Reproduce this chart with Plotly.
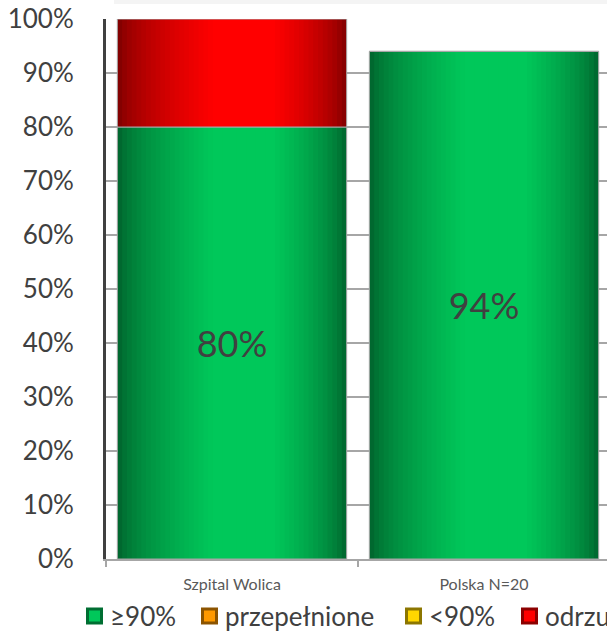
import plotly.graph_objects as go

# Categories and stacked series values (percent of cases)
categories = ["Szpital Wolica", "Polska N=20"]
series_names = ["≥90%", "przepełnione", "<90%", "odrzucone"]
val_ge90 = [80, 94]
val_overfilled = [0, 0]
val_lt90 = [0, 0]
val_rejected = [20, 0]
y_ticks = [0, 10, 20, 30, 40, 50, 60, 70, 80, 90, 100]

series_values = [val_ge90, val_overfilled, val_lt90, val_rejected]
base_colors = [(0, 200, 90), (255, 153, 0), (255, 215, 0), (255, 0, 0)]
label_series = {0}  # only the ≥90% segment carries a value label

BAR_W = 0.91
N_SLICES = 48
step = BAR_W / N_SLICES

FIG_W, FIG_H = 670, 631
M_L, M_R, M_T, M_B = 106, 60, 19, 72
PLOT_W = FIG_W - M_L - M_R
PLOT_H = FIG_H - M_T - M_B

# legend layout (pixel positions of swatches along the bottom row)
LEG_SWATCH_X = [86, 201, 405, 521]
LEG_Y = 616
LEG_SWATCH = 17
LEG_TEXT_GAP = 5


def shade(t):
    """Cylinder-like brightness across the bar width (t in 0..1)."""
    left = min(1.0, t / 0.42) ** 0.6
    right = min(1.0, (1.0 - t) / 0.32) ** 0.6
    return 0.46 + 0.54 * min(left, right)


def rgb(c, f):
    return "rgb(%d,%d,%d)" % tuple(int(round(min(255, v * f))) for v in c)


def px_x(px):
    return (px - M_L) / PLOT_W


def px_y(py):
    return (FIG_H - M_B - py) / PLOT_H


fig = go.Figure()

running = [0] * len(categories)
for si, (name, vals) in enumerate(zip(series_names, series_values)):
    bases = list(running)
    if any(v > 0 for v in vals):
        # gradient fill built from thin vertical slices of the same bar
        for k in range(N_SLICES):
            t = (k + 0.5) / N_SLICES
            w = step * 1.35 if k < N_SLICES - 1 else step
            fig.add_trace(go.Bar(
                x=categories, y=vals, base=bases,
                width=[w] * len(categories),
                offset=[-BAR_W / 2 + k * step] * len(categories),
                marker=dict(color=rgb(base_colors[si], shade(t)), line=dict(width=0)),
                showlegend=False, hoverinfo="skip",
            ))
        # outline and value label
        fig.add_trace(go.Bar(
            x=categories, y=vals, base=bases,
            width=[BAR_W] * len(categories),
            marker=dict(color="rgba(0,0,0,0)", line=dict(color="#a6a6a6", width=1)),
            text=[f"{v}%" if (si in label_series and v > 0) else "" for v in vals],
            textposition="inside", insidetextanchor="middle", textangle=0,
            constraintext="none",
            textfont=dict(family="Lato", size=36, color="#404040"),
            showlegend=False, hoverinfo="skip",
        ))
    running = [r + v for r, v in zip(running, vals)]

# faint shadow of the chart frame along the top edge
shapes = [dict(
    type="rect", xref="paper", yref="paper",
    x0=px_x(114), x1=px_x(FIG_W), y0=px_y(4), y1=px_y(0),
    fillcolor="#f4f4f4", line=dict(width=0), layer="below",
)]
annotations = []

# legend row: bevelled swatch + label for each series
for si, name in enumerate(series_names):
    x0 = LEG_SWATCH_X[si]
    y0 = LEG_Y - LEG_SWATCH / 2
    c = base_colors[si]
    shapes.append(dict(
        type="rect", xref="paper", yref="paper",
        x0=px_x(x0), x1=px_x(x0 + LEG_SWATCH), y0=px_y(y0 + LEG_SWATCH), y1=px_y(y0),
        fillcolor=rgb(c, 0.55), line=dict(width=0),
    ))
    shapes.append(dict(
        type="rect", xref="paper", yref="paper",
        x0=px_x(x0 + 3), x1=px_x(x0 + LEG_SWATCH - 3),
        y0=px_y(y0 + LEG_SWATCH - 3), y1=px_y(y0 + 3),
        fillcolor=rgb(c, 1.0), line=dict(width=0),
    ))
    annotations.append(dict(
        xref="paper", yref="paper", x=px_x(x0 + LEG_SWATCH + LEG_TEXT_GAP), y=px_y(LEG_Y),
        xanchor="left", yanchor="middle", text=name, showarrow=False,
        font=dict(family="Lato", size=26, color="#404040"),
    ))

fig.update_layout(
    width=FIG_W, height=FIG_H,
    margin=dict(l=M_L, r=M_R, t=M_T, b=M_B, pad=0, autoexpand=False),
    barmode="overlay",
    plot_bgcolor="white", paper_bgcolor="white",
    font=dict(family="Lato", color="#404040"),
    showlegend=False,
    shapes=shapes, annotations=annotations,
    xaxis=dict(
        type="category", range=[-0.5, 1.5], automargin=False,
        showline=True, linecolor="#a6a6a6", linewidth=2,
        ticks="outside", tickson="boundaries", ticklen=6, tickcolor="#a6a6a6", tickwidth=2,
        tickfont=dict(family="Lato", size=16, color="#595959"),
        ticklabelstandoff=10,
        showgrid=False, zeroline=False, fixedrange=True,
    ),
    yaxis=dict(
        range=[0, 100], tickvals=y_ticks, ticktext=[f"{v}%" for v in y_ticks],
        automargin=False,
        showline=True, linecolor="#404040", linewidth=3,
        showgrid=True, gridcolor="#a6a6a6", gridwidth=2,
        zeroline=False, ticks="",
        tickfont=dict(family="Lato", size=26, color="#404040"),
        ticklabelstandoff=24, fixedrange=True,
    ),
)

fig.write_html("out.html")
